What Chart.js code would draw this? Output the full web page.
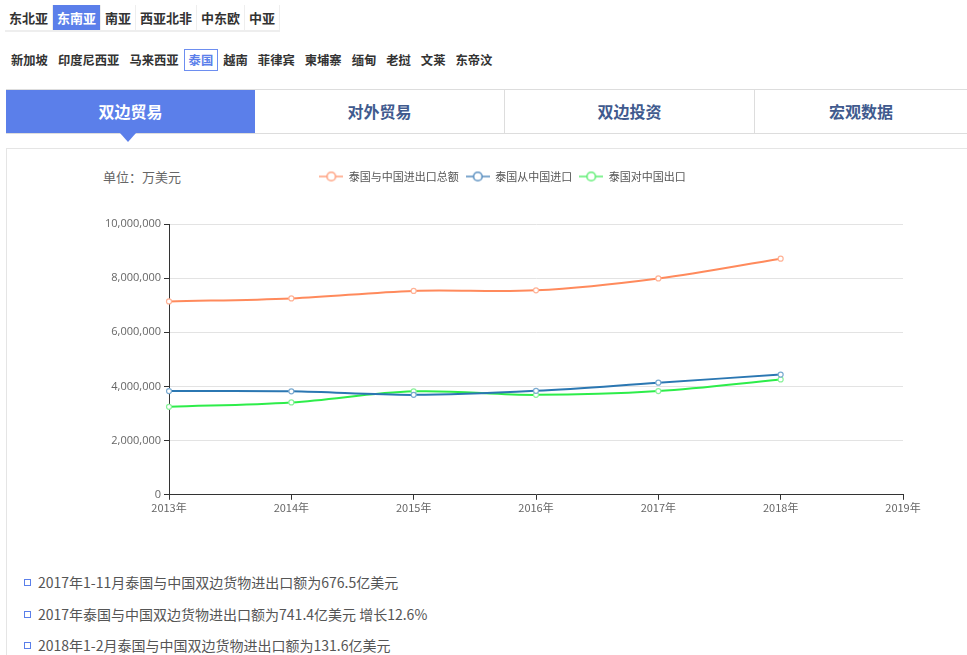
<!DOCTYPE html>
<html>
<head>
<meta charset="utf-8">
<script src="https://cdn.jsdelivr.net/npm/chart.js@4"></script>
<style>
  body { margin: 0; width: 967px; height: 655px; overflow: hidden; background: #fff;
         font-family: "Microsoft YaHei", "Noto Sans CJK SC", sans-serif; color: #333; position: relative; }
  .regions { position: absolute; left: 5px; top: 5px; display: flex; }
  .regions span { display: block; height: 27px; line-height: 25px; padding: 0 4px; font-size: 13px; font-weight: bold;
                  color: #333; background: #fff; border-right: 1px solid #eee; border-bottom: 2px solid #eee; box-sizing: border-box; }
  .regions span.on { background: #5b7fea; color: #fff; }
  .countries { position: absolute; left: 6px; top: 49px; display: flex; }
  .countries span { display: block; height: 22px; line-height: 20px; padding: 0 4px; font-size: 12.3px; font-weight: bold;
                    color: #333; border: 1px solid transparent; box-sizing: border-box; }
  .countries span.on { border-color: #6d8ef0; color: #5b7fea; }
  .tabs { position: absolute; left: 6px; top: 89px; width: 961px; height: 45px; display: flex;
          border-top: 1px solid #ddd; border-bottom: 1px solid #ddd; box-sizing: border-box; }
  .tabs div { flex: none; width: 250px; text-align: center; line-height: 43px; font-size: 16px; font-weight: bold; color: #405a8e;
              border-right: 1px solid #ddd; box-sizing: border-box; position: relative; }
  .tabs div.on { background: #5b7fea; color: #fff; width: 249px; border-right: none; }
  .tabs div.on::after { content: ""; position: absolute; left: 114px; bottom: -9px; border-left: 8px solid transparent;
                        border-right: 8px solid transparent; border-top: 9px solid #5b7fea; }
  .panel { position: absolute; left: 6px; top: 148px; width: 970px; height: 520px; border-top: 1px solid #e5e5e5;
           border-left: 1px solid #e5e5e5; }
  .unit { position: absolute; left: 103px; top: 167px; font-size: 13px; color: #666; }
  .wrap { position: absolute; left: 6px; top: 149px; width: 961px; height: 380px; }
  ul { position: absolute; left: 0; top: 567px; margin: 0; padding: 0; list-style: none; }
  li { position: relative; padding-left: 38px; height: 31.5px; line-height: 31px; font-size: 14px; color: #555; }
  li::before { content: ""; position: absolute; left: 24px; top: 12px; width: 5px; height: 5px; border: 1px solid #5b7fea; }
</style>
</head>
<body>
<div class="regions">
  <span>东北亚</span><span class="on">东南亚</span><span>南亚</span><span>西亚北非</span><span>中东欧</span><span>中亚</span>
</div>
<div class="countries">
  <span>新加坡</span><span>印度尼西亚</span><span>马来西亚</span><span class="on">泰国</span><span>越南</span><span>菲律宾</span><span>柬埔寨</span><span>缅甸</span><span>老挝</span><span>文莱</span><span>东帝汶</span>
</div>
<div class="tabs">
  <div class="on">双边贸易</div><div>对外贸易</div><div>双边投资</div><div style="border-right:none;width:212px">宏观数据</div>
</div>
<div class="panel"></div>
<div class="unit">单位：万美元</div>
<div class="wrap"><canvas id="lineChart"></canvas></div>
<ul>
  <li>2017年1-11月泰国与中国双边货物进出口额为676.5亿美元</li>
  <li>2017年泰国与中国双边货物进出口额为741.4亿美元 增长12.6%</li>
  <li>2018年1-2月泰国与中国双边货物进出口额为131.6亿美元</li>
</ul>
<script>
// 数据（万美元）
const years = ["2013年", "2014年", "2015年", "2016年", "2017年", "2018年", "2019年"];
const seriesNames = ["泰国与中国进出口总额", "泰国从中国进口", "泰国对中国出口"];
const totalTrade = [7140000, 7250000, 7530000, 7550000, 7990000, 8720000];
const imports = [3830000, 3820000, 3690000, 3840000, 4140000, 4440000];
const exports = [3250000, 3410000, 3820000, 3690000, 3830000, 4260000];
const lineColors = ["#ff8a5c", "#2b77b2", "#2ded4a"];
const pointColors = ["#ffb296", "#7aaad0", "#8af29a"];

// legend icon: line with hollow circle
function legendIcon(color) {
    const c = document.createElement("canvas");
    c.width = 24; c.height = 12;
    const ctx = c.getContext("2d");
    ctx.strokeStyle = color;
    ctx.lineWidth = 1.6;
    ctx.beginPath(); ctx.moveTo(0, 6); ctx.lineTo(24, 6); ctx.stroke();
    ctx.beginPath(); ctx.arc(12, 6, 4.3, 0, Math.PI * 2);
    ctx.fillStyle = "#fff"; ctx.fill(); ctx.stroke();
    return c;
}
const icons = ["#ffa585", "#5f93c2", "#66ef7a"].map(legendIcon);

const legendGap = {
    id: "legendGap",
    beforeInit(chart) {
        const fit = chart.legend.fit;
        chart.legend.fit = function () { fit.call(this); this.height += 32; };
    }
};

const dataSets = [totalTrade, imports, exports].map((d, i) => ({
    label: seriesNames[i],
    data: d,
    borderColor: lineColors[i],
    backgroundColor: lineColors[i],
    borderWidth: 2,
    tension: 0.35,
    pointRadius: 2.5,
    pointBorderWidth: 1.2,
    pointBackgroundColor: "#fff",
    pointBorderColor: pointColors[i]
}));

const lineChart = new Chart(document.getElementById("lineChart"), {
    type: "line",
    data: { labels: years, datasets: dataSets },
    plugins: [legendGap],
    options: {
        responsive: true,
        maintainAspectRatio: false,
        animation: false,
        layout: { padding: { left: 96, right: 64, top: 15, bottom: 14 } },
        plugins: {
            tooltip: { enabled: false },
            legend: {
                position: "top",
                labels: {
                    usePointStyle: true,
                    pointStyleWidth: 24,
                    boxHeight: 11,
                    padding: 7,
                    color: "#555",
                    font: { family: "'Noto Sans CJK SC', sans-serif", size: 11 },
                    generateLabels(chart) {
                        return chart.data.datasets.map((ds, i) => ({
                            text: ds.label,
                            pointStyle: icons[i],
                            fillStyle: ds.borderColor,
                            strokeStyle: ds.borderColor,
                            lineWidth: 0,
                            fontColor: "#555",
                            datasetIndex: i
                        }));
                    }
                }
            }
        },
        scales: {
            x: {
                offset: false,
                grid: { drawOnChartArea: false, tickColor: "#333", tickLength: 5 },
                border: { color: "#333" },
                ticks: { color: "#666", padding: 1, maxRotation: 0, autoSkip: false,
                         font: { family: "'Noto Sans CJK SC', sans-serif", size: 11 } }
            },
            y: {
                min: 0,
                max: 10000000,
                grid: { color: "#e3e3e3", tickColor: "#333", tickLength: 5 },
                border: { color: "#333" },
                ticks: { stepSize: 2000000, color: "#666", padding: 3,
                         font: { family: "'Open Sans', sans-serif", size: 11 },
                         callback: v => v.toLocaleString("en-US") }
            }
        }
    }
});
</script>
</body>
</html>
